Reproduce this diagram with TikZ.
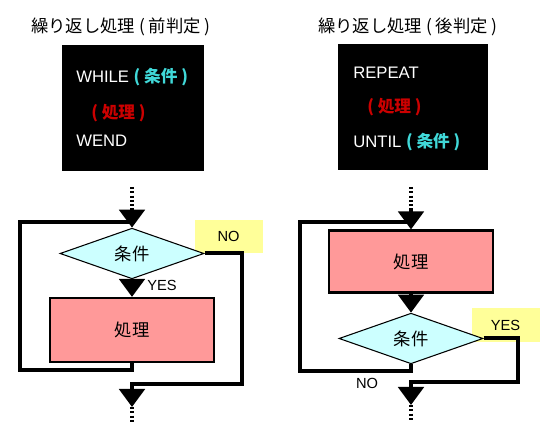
\documentclass[tikz,border=0pt]{standalone}
\usepackage{fontspec}
\setmainfont{Liberation Sans}
\newfontfamily\jp{Noto Sans CJK JP}
\usepackage{tikz}
\usetikzlibrary{arrows.meta, positioning, shapes.geometric}
\definecolor{rose}{HTML}{FF9999}
\definecolor{ciel}{HTML}{CCFFFF}
\definecolor{jaune}{HTML}{FFFF99}
\definecolor{kcyan}{HTML}{40D8D8}
\definecolor{krouge}{HTML}{CC0000}
\newcommand{\kcond}[1]{{\jp\bfseries\color{kcyan}#1}}
\newcommand{\kproc}[1]{{\jp\bfseries\color{krouge}#1}}
\tikzset{
  heading/.style={font=\jp\fontsize{13}{15}\selectfont, text=black, inner sep=0pt},
  codebox/.style={rectangle, fill=black, minimum height=94.5pt, inner sep=0pt},
  codeline/.style={anchor=west, text=white, inner sep=0pt,
    font=\fontsize{12.5}{15}\selectfont},
  procbox/.style={rectangle, draw=black, line width=1.6pt, fill=rose,
    font=\jp\fontsize{13}{15}\selectfont, minimum width=122.5pt, inner sep=0pt},
  condbox/.style={diamond, draw=black, line width=0.8pt, fill=ciel,
    font=\jp\fontsize{13}{15}\selectfont, minimum width=108pt,
    minimum height=35.25pt, inner sep=0pt},
  tagbox/.style={rectangle, fill=jaune, font=\fontsize{11}{13}\selectfont,
    minimum width=51pt, minimum height=25pt, inner sep=0pt},
  tag/.style={font=\fontsize{11}{13}\selectfont, inner sep=0pt},
  flow/.style={line width=3pt, color=black},
  flowarrow/.style={flow, -{Triangle[width=19pt, length=13.5pt]}},
  dotline/.style={line width=3pt, dash pattern=on 1.6pt off 1.6pt}
}
\begin{document}
\begin{tikzpicture}[x=0.75pt, y=-0.75pt]
  \useasboundingbox (0,0) rectangle (540,441);

  % repetition with test first
  \node[heading] (title1) at (121,27) {繰り返し処理 ( 前判定 )};
  \node[codebox, minimum width=106.5pt] (code1) at (133,108) {};
  \node[codeline] (while) at (76,77) {WHILE \kcond{( 条件 )}};
  \node[codeline] (body1) at (91,113) {\kproc{( 処理 )}};
  \node[codeline] (wend) at (76,141) {WEND};

  \node[tagbox] (nobox) at (228.5,236.5) {NO};
  \node[condbox] (cond1) at (132,253.5) {条件};
  \node[procbox, minimum height=48pt] (proc1) at (132,330) {処理};
  \node[tag] (yes1) at (162,285) {YES};

  \coordinate (in1) at (132,187);
  \coordinate (mid1) at (132,210);
  \coordinate (join1) at (132,222);
  \coordinate (out1) at (132,407);
  \coordinate (end1) at (132,422);

  \draw[dotline] (in1) -- (mid1);
  \draw[flowarrow] (mid1) -- (cond1.north);
  \draw[flowarrow] (cond1.south) -- (proc1.north);
  \draw[flow] (proc1.south) |- (20,370) |- (join1);
  \draw[flowarrow] (cond1.east) -| (242,384) -| (out1);
  \draw[dotline] (out1) -- (end1);

  % repetition with test last
  \node[heading] (title2) at (408,27) {繰り返し処理 ( 後判定 )};
  \node[codebox, minimum width=112.5pt] (code2) at (413,107) {};
  \node[codeline] (repeat) at (353,73) {REPEAT};
  \node[codeline] (body2) at (367,107) {\kproc{( 処理 )}};
  \node[codeline] (until) at (353,142) {UNTIL \kcond{( 条件 )}};

  \node[tagbox] (yesbox) at (505.5,325) {YES};
  \node[procbox, minimum height=46.5pt] (proc2) at (411,261.5) {処理};
  \node[condbox] (cond2) at (411,338.5) {条件};
  \node[tag] (no2) at (367,383) {NO};

  \coordinate (in2) at (411,187);
  \coordinate (mid2) at (411,210);
  \coordinate (join2) at (411,222);
  \coordinate (out2) at (411,405);
  \coordinate (end2) at (411,420);

  \draw[dotline] (in2) -- (mid2);
  \draw[flowarrow] (mid2) -- (proc2.north);
  \draw[flowarrow] (proc2.south) -- (cond2.north);
  \draw[flow] (cond2.south) |- (300,371) |- (join2);
  \draw[flowarrow] (cond2.east) -| (518,382) -| (out2);
  \draw[dotline] (out2) -- (end2);
\end{tikzpicture}
\end{document}
